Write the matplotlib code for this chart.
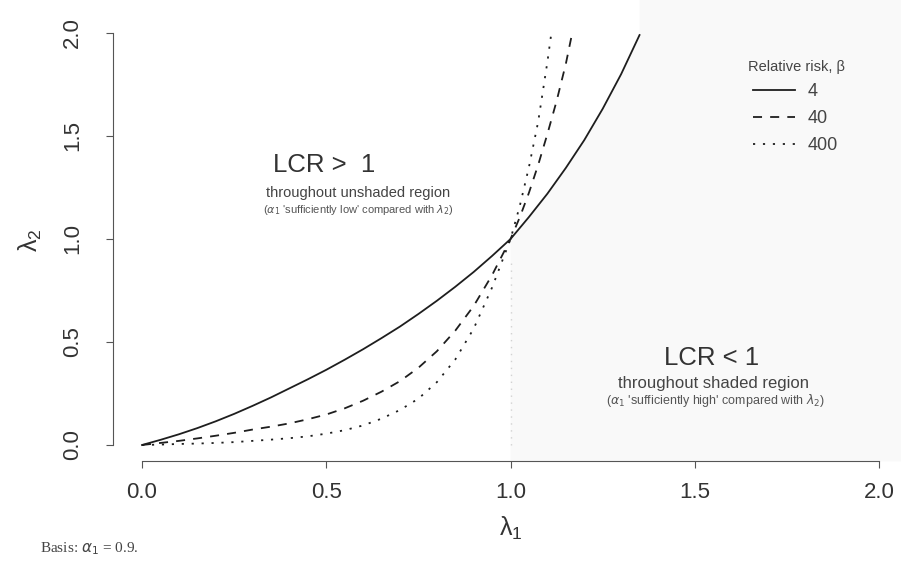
import matplotlib
matplotlib.use("Agg")
import matplotlib.pyplot as plt

plt.rcParams['font.family'] = ['Liberation Sans', 'DejaVu Sans']

# boundary curves lambda2 vs lambda1 for three relative risks
beta4_x = [0.0, 0.05, 0.1, 0.15, 0.2, 0.25, 0.3, 0.35, 0.4, 0.45, 0.5, 0.55, 0.6, 0.65, 0.7,
           0.75, 0.8, 0.85, 0.9, 0.95, 1.0, 1.05, 1.1, 1.15, 1.2, 1.25, 1.3, 1.35]
beta4_y = [0.0, 0.025, 0.052, 0.082, 0.115, 0.151, 0.19, 0.231, 0.275, 0.319, 0.365, 0.414, 0.465,
           0.519, 0.575, 0.636, 0.70, 0.768, 0.84, 0.918, 1.0, 1.107, 1.22, 1.345, 1.48, 1.632, 1.80, 1.99]

beta40_x = [0.0, 0.05, 0.1, 0.15, 0.2, 0.25, 0.3, 0.35, 0.4, 0.45, 0.5, 0.55, 0.6, 0.65, 0.7,
            0.75, 0.8, 0.85, 0.9, 0.95, 1.0, 1.025, 1.05, 1.075, 1.1, 1.125, 1.15, 1.165]
beta40_y = [0.0, 0.01, 0.02, 0.032, 0.045, 0.059, 0.075, 0.089, 0.105, 0.125, 0.148, 0.178, 0.215,
            0.259, 0.31, 0.375, 0.455, 0.555, 0.675, 0.825, 1.0, 1.105, 1.225, 1.36, 1.51, 1.67, 1.85, 1.98]

beta400_x = [0.0, 0.05, 0.1, 0.15, 0.2, 0.25, 0.3, 0.35, 0.4, 0.45, 0.5, 0.55, 0.6, 0.65, 0.7,
             0.75, 0.8, 0.85, 0.9, 0.95, 1.0, 1.025, 1.05, 1.075, 1.1, 1.11]
beta400_y = [0.0, 0.002, 0.005, 0.007, 0.01, 0.014, 0.02, 0.026, 0.033, 0.042, 0.055, 0.072, 0.095,
             0.128, 0.17, 0.225, 0.305, 0.415, 0.565, 0.765, 1.0, 1.16, 1.35, 1.57, 1.86, 1.99]

ticks = [0.0, 0.5, 1.0, 1.5, 2.0]
tick_labels = ['0.0', '0.5', '1.0', '1.5', '2.0']
risk_labels = ['4', '40', '400']

ink = '#1e1e1e'
fig = plt.figure(figsize=(9.01, 5.67), dpi=100)
ax = fig.add_axes([0.1249, 0.1861, 0.8835, 0.7848])
ax.set_xlim(-0.08, 2.08)
ax.set_ylim(-0.08, 2.08)

# faint shaded region: right of lambda1 = 1 and below the beta = 4 curve
shade_x = [1.0] + [x for x in beta4_x if x >= 1.0] + [beta4_x[-1], 2.3, 2.3]
shade_y = [-0.08] + [y for x, y in zip(beta4_x, beta4_y) if x >= 1.0] + [2.3, 2.3, -0.08]
ax.fill(shade_x, shade_y, color='#f9f9f9', lw=0, zorder=0, clip_on=False)
ax.plot([1.0, 1.0], [0.0, 0.9], color='#d2d2d2', lw=1.0, ls=(0, (1, 4)), zorder=1)

lw = 1.3
l1, = ax.plot(beta4_x, beta4_y, color=ink, lw=lw)
l2, = ax.plot(beta40_x, beta40_y, color=ink, lw=lw, ls=(0, (5, 4.5)))
l3, = ax.plot(beta400_x, beta400_y, color=ink, lw=lw, ls=(0, (1.2, 4.3)))

for side in ['top', 'right']:
    ax.spines[side].set_visible(False)
for side in ['left', 'bottom']:
    ax.spines[side].set_bounds(0, 2)
    ax.spines[side].set_color('#555555')
    ax.spines[side].set_linewidth(0.8)

ax.set_xticks(ticks)
ax.set_xticklabels(tick_labels, fontsize=16, color='#333333')
ax.set_yticks(ticks)
ax.set_yticklabels(tick_labels, fontsize=16, color='#333333', rotation=90, va='center')
ax.tick_params(axis='x', length=5, width=0.8, color='#555555', pad=10)
ax.tick_params(axis='y', length=5, width=0.8, color='#555555', pad=16)

fig.text(511 / 901, 1 - 528 / 567, r'$\mathregular{\lambda_1}$', fontsize=18, ha='center', va='center',
         color='#333333')
fig.text(30 / 901, 1 - 240 / 567, r'$\mathregular{\lambda_2}$', fontsize=18, ha='center', va='center',
         rotation=90, color='#333333')

ax.text(0.355, 1.36, 'LCR >  1', fontsize=18.5, ha='left', va='center', color='#333333')
ax.text(0.586, 1.223, 'throughout unshaded region', fontsize=10.5, ha='center', va='center',
        color='#444444')
ax.text(0.586, 1.14, r"($\alpha_1$ 'sufficiently low' compared with $\lambda_2$)", fontsize=8,
        ha='center', va='center', color='#555555')

ax.text(1.545, 0.42, 'LCR < 1', fontsize=18.5, ha='center', va='center', color='#333333')
ax.text(1.55, 0.30, 'throughout shaded region', fontsize=12, ha='center', va='center', color='#444444')
ax.text(1.555, 0.218, r"($\alpha_1$ 'sufficiently high' compared with $\lambda_2$)", fontsize=9,
        ha='center', va='center', color='#555555')

fig.text(797 / 901, 1 - 67 / 567, 'Relative risk, β', fontsize=10.5, ha='center', va='center',
         color='#444444')
leg = ax.legend([l1, l2, l3], risk_labels, frameon=False,
                fontsize=13, handlelength=2.3, handletextpad=0.7,
                labelspacing=0.55, loc='upper left',
                bbox_to_anchor=(753 / 901, 1 - 83 / 567), bbox_transform=fig.transFigure,
                borderpad=0, borderaxespad=0)
for t in leg.get_texts():
    t.set_color('#444444')

fig.text(40 / 901, 1 - 549 / 567, r'Basis: $\alpha_1$ = 0.9.', fontsize=11, ha='left', va='center',
         family='Liberation Serif', color='#444444')

fig.savefig('out.png', dpi=100)
